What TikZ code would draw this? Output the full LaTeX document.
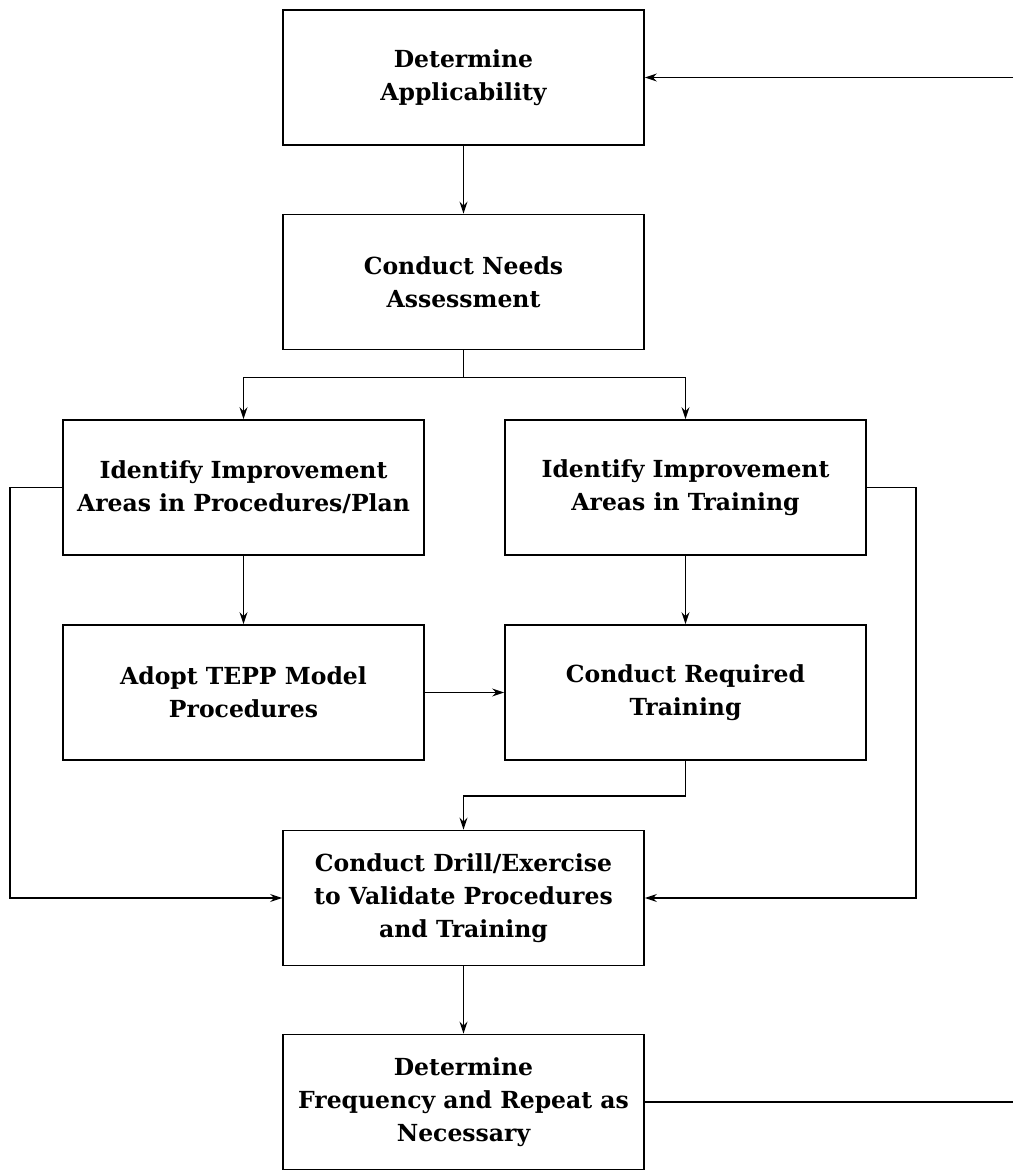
\documentclass[tikz,border=0pt]{standalone}
\usepackage{fontspec}
\setmainfont{DejaVu Serif}
\usetikzlibrary{arrows.meta}
\begin{document}
\begin{tikzpicture}[x=1pt,y=-1pt,
  box/.style={draw, line width=1.8pt, minimum width=361pt, minimum height=135pt,
    align=center, font=\fontsize{23.5}{33}\selectfont\bfseries, inner sep=0pt},
  conn/.style={line width=1.5pt},
  arr/.style={conn, -{Stealth[length=12pt,width=8pt]}}]
\useasboundingbox (0,0) rectangle (1013,1170);
\node[box] (b1) at (463.5,77.5) {Determine\\Applicability};
\node[box] (b2) at (463.5,282) {Conduct Needs\\Assessment};
\node[box] (b3) at (243.5,487.5) {Identify Improvement\\Areas in Procedures/Plan};
\node[box] (b4) at (685.5,487.5) {Identify Improvement\\Areas in Training};
\node[box] (b5) at (243.5,692.5) {Adopt TEPP Model\\Procedures};
\node[box] (b6) at (685.5,692.5) {Conduct Required\\Training};
\node[box] (b7) at (463.5,898) {Conduct Drill/Exercise\\to Validate Procedures\\and Training};
\node[box] (b8) at (463.5,1102) {Determine\\Frequency and Repeat as\\Necessary};
\coordinate (lx) at (10,0);
\coordinate (rx) at (916,0);
\coordinate (fbtop) at (1013,77.5);
\coordinate (fbbot) at (1013,1102);
\draw[arr] (b1) -- (b2);
\draw[conn] (b2.south) -- ++(0,27) coordinate (split);
\draw[arr] (split) -| (b3.north);
\draw[arr] (split) -| (b4.north);
\draw[arr] (b3) -- (b5);
\draw[arr] (b4) -- (b6);
\draw[arr] (b5) -- (b6);
\draw[arr] (b6.south) -- ++(0,35) -| (b7.north);
\draw[arr] (b3.west) -- (b3.west -| lx) |- (b7.west);
\draw[arr] (b4.east) -- (b4.east -| rx) |- (b7.east);
\draw[arr] (b7) -- (b8);
\draw[conn] (b8.east) -- (fbbot);
\draw[arr] (fbtop) -- (b1.east);
\end{tikzpicture}
\end{document}
